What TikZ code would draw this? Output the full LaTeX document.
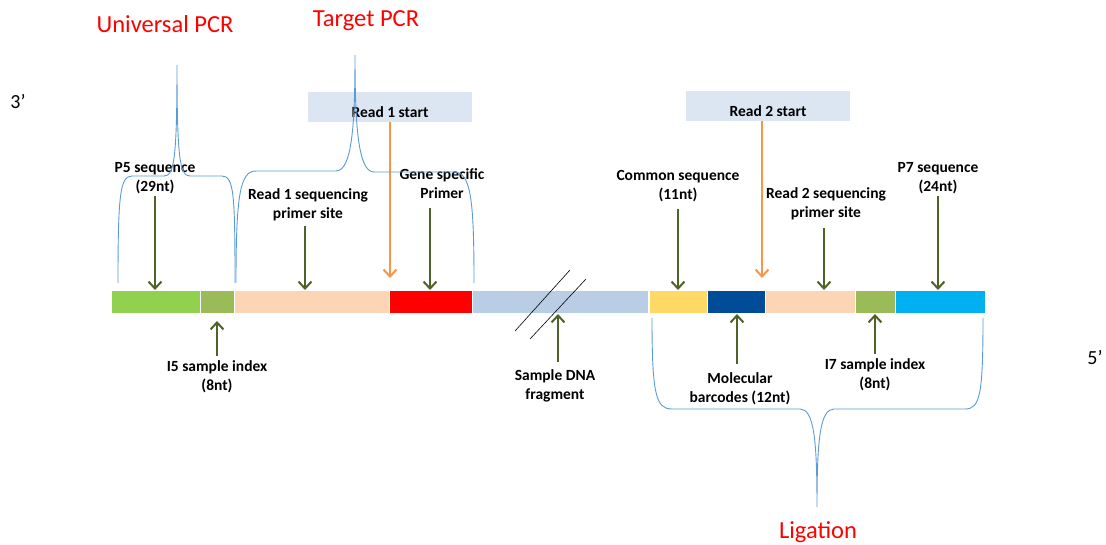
\documentclass[tikz,border=0pt]{standalone}
\usepackage{fontspec}
\setmainfont{Carlito}
\usetikzlibrary{arrows.meta}
\definecolor{agreen}{RGB}{79,98,40}
\definecolor{aorange}{RGB}{247,150,70}
\definecolor{bblue}{RGB}{91,155,213}
\definecolor{boxfill}{RGB}{220,230,242}
\definecolor{cpeach}{RGB}{252,213,181}
\definecolor{cgreen}{RGB}{146,208,80}
\definecolor{colive}{RGB}{155,187,89}
\definecolor{cred}{RGB}{255,0,0}
\definecolor{csteel}{RGB}{185,205,229}
\definecolor{cyellow}{RGB}{255,217,102}
\definecolor{cdblue}{RGB}{0,76,153}
\definecolor{ccyan}{RGB}{0,176,240}
\tikzset{
  seg/.style={draw=white, line width=1pt, inner sep=0pt, minimum height=23pt, anchor=north west},
  lbl/.style={font=\fontsize{15.5}{19}\selectfont\bfseries, align=center, inner sep=0pt, anchor=north},
  title/.style={font=\fontsize{24.5}{28}\selectfont, text=cred, inner sep=0pt, anchor=north},
  prime/.style={font=\fontsize{20}{24}\selectfont, inner sep=0pt, anchor=north},
  garrow/.style={draw=agreen, line width=2pt, -{Straight Barb[length=7pt,width=13pt]}},
  oarrow/.style={draw=aorange, line width=2pt, -{Straight Barb[length=7pt,width=13pt]}},
  brace/.style={draw=bblue, line width=0.9pt},
  rbox/.style={fill=boxfill, inner sep=0pt, minimum width=164pt, minimum height=30pt},
}
\begin{document}
\begin{tikzpicture}[x=1pt,y=-1pt]
\useasboundingbox (0,0) rectangle (1106,545);

% read start boxes
\node[rbox] (box1) at (390,107) {};
\node[rbox] (box2) at (768,106) {};
\node[lbl] (r1s) at (390,106) {Read 1 start};
\node[lbl] (r2s) at (768,105) {Read 2 start};

% bar segments
\node[seg, fill=cgreen,  minimum width=89pt] (s1) at (111,290) {};
\node[seg, fill=colive,  minimum width=34pt] (s2) at (200,290) {};
\node[seg, fill=cpeach,  minimum width=155pt] (s3) at (234,290) {};
\node[seg, fill=cred,    minimum width=83pt] (s4) at (389,290) {};
\node[seg, fill=csteel,  minimum width=176pt] (s5) at (472,290) {};
\node[seg, fill=cyellow, minimum width=58pt] (s6) at (649,290) {};
\node[seg, fill=cdblue,  minimum width=58pt] (s7) at (707,290) {};
\node[seg, fill=cpeach,  minimum width=90pt] (s8) at (765,290) {};
\node[seg, fill=colive,  minimum width=40pt] (s9) at (855,290) {};
\node[seg, fill=ccyan,   minimum width=90pt] (s10) at (895,290) {};

% break slashes
\coordinate (k1a) at (515,331);
\coordinate (k1b) at (570,270);
\coordinate (k2a) at (530,339);
\coordinate (k2b) at (586,279);
\draw[line width=0.6pt] (k1a) -- (k1b);
\draw[line width=0.6pt] (k2a) -- (k2b);

% labels above
\node[lbl] (lp5) at (155,162) {P5 sequence\\(29nt)};
\node[lbl] (lr1) at (308,188) {Read 1 sequencing\\primer site};
\node[lbl] (lgs) at (442,168) {Gene specific\\Primer};
\node[lbl] (lcs) at (678,170) {Common sequence\\(11nt)};
\node[lbl] (lr2) at (826,187) {Read 2 sequencing\\primer site};
\node[lbl] (lp7) at (938,162) {P7 sequence\\(24nt)};

% labels below
\node[lbl] (li5) at (217,360) {I5 sample index\\(8nt)};
\node[lbl] (ldna) at (555,369) {Sample DNA\\fragment};
\node[lbl] (lmb) at (740,372) {Molecular\\barcodes (12nt)};
\node[lbl] (li7) at (875,358) {I7 sample index\\(8nt)};

% titles and primes
\node[title] (tu) at (165,15) {Universal PCR};
\node[title] (tt) at (366,10) {Target PCR};
\node[title] (tl) at (818,521) {Ligation};
\node[prime] (p3) at (18,94) {3’};
\node[prime] (p5) at (1095,350) {5’};

% down arrows
\coordinate (a1) at (155,196);
\coordinate (a2) at (305,226);
\coordinate (a3) at (430,208);
\coordinate (a4) at (678,209);
\coordinate (a5) at (824,228);
\coordinate (a6) at (938,196);
\draw[garrow] (a1) -- (a1 |- s1.north);
\draw[garrow] (a2) -- (a2 |- s3.north);
\draw[garrow] (a3) -- (a3 |- s4.north);
\draw[garrow] (a4) -- (a4 |- s6.north);
\draw[garrow] (a5) -- (a5 |- s8.north);
\draw[garrow] (a6) -- (a6 |- s10.north);

% up arrows
\coordinate (u1) at (217,356);
\coordinate (u1t) at (217,321);
\coordinate (u2) at (558,362);
\coordinate (u3) at (737,364);
\coordinate (u4) at (875,354);
\draw[garrow] (u1) -- (u1t);
\draw[garrow] (u2) -- (u2 |- s5.south);
\draw[garrow] (u3) -- (u3 |- s7.south);
\draw[garrow] (u4) -- (u4 |- s9.south);

% orange arrows
\coordinate (o1) at (390,278);
\coordinate (o2) at (762,278);
\draw[oarrow] (box1.south -| o1) -- (o1);
\draw[oarrow] (box2.south -| o2) -- (o2);

% braces
\coordinate (b1l) at (118,283);
\coordinate (b1t) at (177,65);
\coordinate (b1r) at (235,283);
\draw[brace] (b1l) .. controls (118,195) and (120,176) .. (132,176) -- (164,176)
  .. controls (174,176) and (177,160) .. (b1t)
  .. controls (177,160) and (180,176) .. (190,176) -- (222,176)
  .. controls (234,176) and (235,195) .. (b1r);

\coordinate (b2l) at (236,283);
\coordinate (b2t) at (355,55);
\coordinate (b2r) at (474,283);
\draw[brace] (b2l) .. controls (236,195) and (240,171) .. (256,171) -- (336,171)
  .. controls (352,171) and (355,125) .. (b2t)
  .. controls (355,125) and (358,172) .. (374,172) -- (454,172)
  .. controls (471,172) and (474,200) .. (b2r);

\coordinate (b3l) at (652,318);
\coordinate (b3t) at (817,507);
\coordinate (b3r) at (983,318);
\draw[brace] (b3l) .. controls (652,395) and (656,409) .. (672,409) -- (800,409)
  .. controls (814,409) and (817,440) .. (b3t)
  .. controls (817,440) and (820,409) .. (834,409) -- (965,409)
  .. controls (980,409) and (983,395) .. (b3r);
\end{tikzpicture}
\end{document}
